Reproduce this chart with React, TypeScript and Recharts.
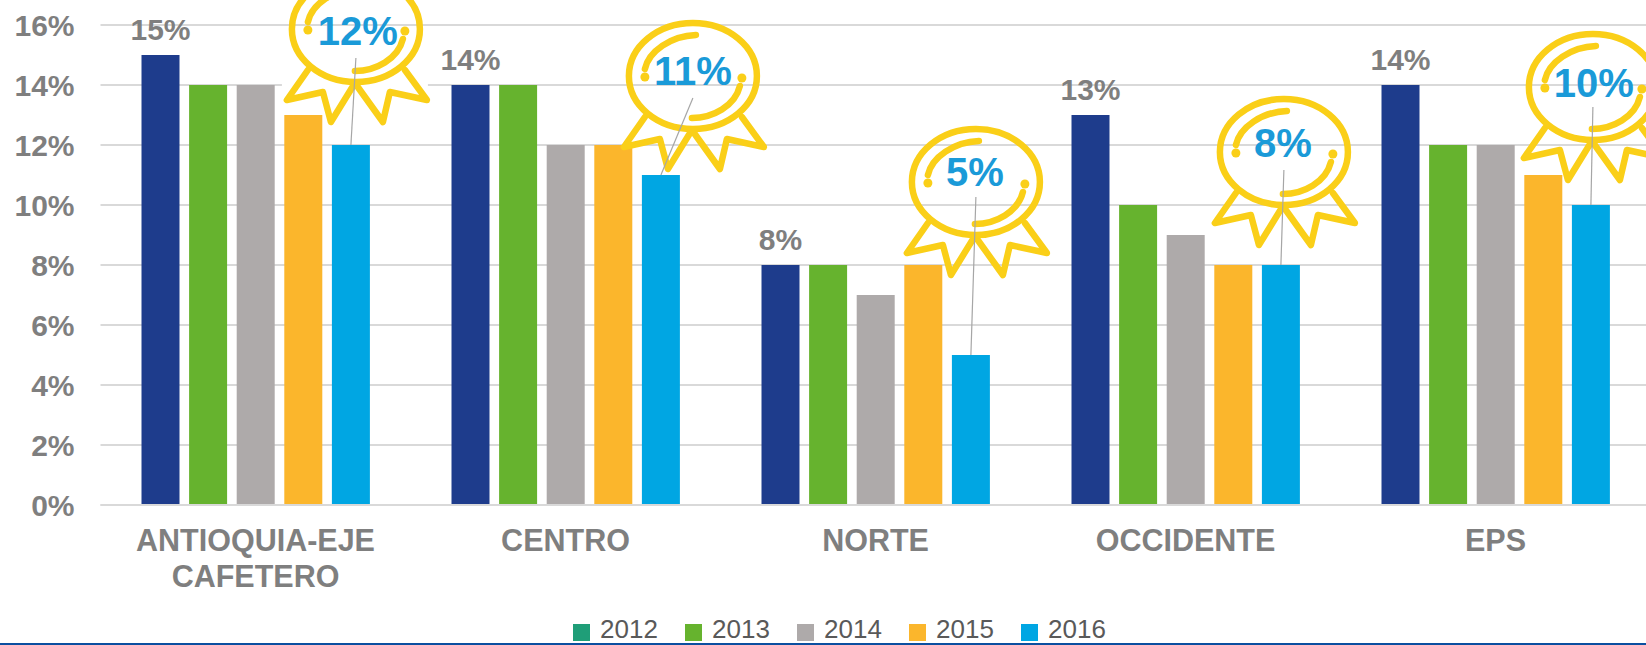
import React from "react";
import { BarChart, Bar, XAxis, YAxis, CartesianGrid, Legend, LabelList } from "recharts";

const categories = ["ANTIOQUIA-EJE CAFETERO", "CENTRO", "NORTE", "OCCIDENTE", "EPS"];
const years = ["2012", "2013", "2014", "2015", "2016"];
const v2012 = [15, 14, 8, 13, 14];
const v2013 = [14, 14, 8, 10, 12];
const v2014 = [14, 12, 7, 9, 12];
const v2015 = [13, 12, 8, 8, 11];
const v2016 = [12, 11, 5, 8, 10];
const yTicks = [0, 2, 4, 6, 8, 10, 12, 14, 16];

const barColors = ["#1E3C8C", "#66B32E", "#AEAAAA", "#FBB62C", "#00A6E3"];
const legendColors = ["#1F9E78", "#66B32E", "#AEAAAA", "#FBB62C", "#00A6E3"];

const rows = categories.map((name, i) => ({
  name,
  "2012": v2012[i],
  "2013": v2013[i],
  "2014": v2014[i],
  "2015": v2015[i],
  "2016": v2016[i],
}));

const medalDx = [5, 32, 5, 3, 2];
const medalDy = [-116, -99, -173, -113, -118];
const medalTextDx = [2, 0, -1, -1, 1];
const medalTextDy = [2, -5, -10, -9, -4];
const medalLineEnd = [29, 22, 15, 18, 20];
const medalHidesGrid = [true, false, false, false, false];
const GOLD = "#FACF18";

function Medal(props: any) {
  const { x, y, width, value, index } = props;
  const bx = x + width / 2;
  const cx = bx + medalDx[index];
  const cy = y + medalDy[index];
  const ribbon = "M-48,41 L-69,71 L-33,63 L-25,93 L-1,54 L27,93 L34,63 L71,71 L49,41";
  return (
    <g>
      {medalHidesGrid[index] && <rect x={cx - 74} y={cy + 2} width={146} height={83} fill="#fff" />}
      <g transform={`translate(${cx},${cy})`} fill="none" stroke={GOLD} strokeLinecap="round" strokeLinejoin="round">
        <path d={ribbon} strokeWidth={6.5} />
        <ellipse cx={0} cy={0} rx={64} ry={53} strokeWidth={6.5} />
        <path d="M-48,-7 C-44,-25 -22,-40 3,-41" strokeWidth={6.5} />
        <path d="M-1,42 C20,42 42,30 47,10" strokeWidth={6.5} />
        <circle cx={-48} cy={1} r={4.5} fill={GOLD} stroke="none" />
        <circle cx={49} cy={2} r={4.5} fill={GOLD} stroke="none" />
      </g>
      <text
        x={cx + medalTextDx[index]}
        y={cy + medalTextDy[index]}
        textAnchor="middle"
        dominantBaseline="central"
        fontFamily="'Liberation Sans', Arial, sans-serif"
        fontWeight={700}
        fontSize={40}
        fill="#1A9AD8"
      >
        {`${value}%`}
      </text>
      <line x1={bx} y1={y} x2={cx} y2={cy + medalLineEnd[index]} stroke="#A6A6A6" strokeWidth={1.2} />
    </g>
  );
}

function CategoryTick(props: any) {
  const { x, y, payload } = props;
  const lines = String(payload.value) === categories[0] ? ["ANTIOQUIA-EJE", "CAFETERO"] : [String(payload.value)];
  return (
    <text x={x} y={y} textAnchor="middle" fontFamily="'Liberation Sans', Arial, sans-serif" fontWeight={700} fontSize={30.5} fill="#7F7F7F">
      {lines.map((t, i) => (
        <tspan key={t} x={x} dy={i === 0 ? 38 : 36}>
          {t}
        </tspan>
      ))}
    </text>
  );
}

function LegendRow() {
  return (
    <div style={{ position: "relative", width: 600, height: 30 }}>
      {years.map((year, i) => (
        <div key={year} style={{ position: "absolute", left: i * 112, top: 0, height: 30 }}>
          <div style={{ position: "absolute", left: 0, top: 9, width: 17, height: 17, background: legendColors[i] }} />
          <div
            style={{
              position: "absolute",
              left: 27,
              top: 3,
              fontFamily: "'Liberation Sans', sans-serif",
              fontSize: 26,
              lineHeight: "23px",
              color: "#595959",
            }}
          >
            {year}
          </div>
        </div>
      ))}
    </div>
  );
}

export default function App() {
  return (
    <div style={{ position: "absolute", left: 0, top: 0, width: 1646, height: 645, overflow: "hidden", background: "#fff" }}>
      <BarChart
        width={1660}
        height={645}
        data={rows}
        margin={{ top: 25, right: 9.5, bottom: 10, left: 0 }}
        barSize={38}
        barGap={9.6}
      >
        <CartesianGrid horizontal vertical={false} stroke="#D9D9D9" strokeWidth={2} />
        <XAxis
          dataKey="name"
          interval={0}
          height={100}
          axisLine={{ stroke: "#D9D9D9", strokeWidth: 2 }}
          tickLine={false}
          tick={<CategoryTick />}
        />
        <YAxis
          width={100.5}
          domain={[0, 16]}
          ticks={yTicks}
          axisLine={false}
          tickLine={false}
          tickMargin={20}
          tickFormatter={(v: number) => `${v}%`}
          tick={{ fontFamily: "'Liberation Sans', Arial, sans-serif", fontWeight: 700, fontSize: 30, fill: "#7F7F7F" }}
        />
        <Legend
          verticalAlign="bottom"
          content={<LegendRow />}
          wrapperStyle={{ position: "absolute", left: 573, width: 600, height: 30, bottom: 0 }}
        />
        <Bar dataKey="2012" fill={barColors[0]} isAnimationActive={false}>
          <LabelList
            dataKey="2012"
            position="top"
            offset={15}
            formatter={(v: number) => `${v}%`}
            style={{ fontFamily: "'Liberation Sans', Arial, sans-serif", fontWeight: 700, fontSize: 30, fill: "#7F7F7F" }}
          />
        </Bar>
        <Bar dataKey="2013" fill={barColors[1]} isAnimationActive={false} />
        <Bar dataKey="2014" fill={barColors[2]} isAnimationActive={false} />
        <Bar dataKey="2015" fill={barColors[3]} isAnimationActive={false} />
        <Bar dataKey="2016" fill={barColors[4]} isAnimationActive={false}>
          <LabelList dataKey="2016" content={<Medal />} />
        </Bar>
      </BarChart>
      <div style={{ position: "absolute", left: 0, top: 643, width: 1646, height: 2, background: "#0B4FA0" }} />
    </div>
  );
}
